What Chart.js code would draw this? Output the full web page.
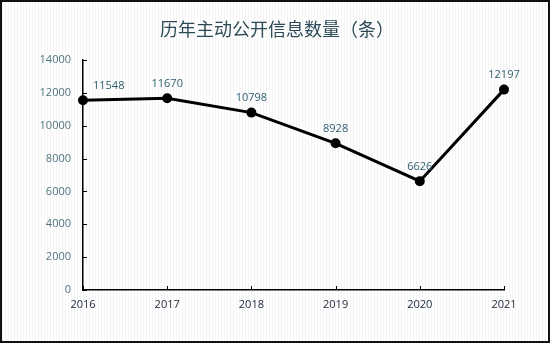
<!DOCTYPE html>
<html>
<head>
<meta charset="utf-8">
<script src="https://cdn.jsdelivr.net/npm/chart.js@4/dist/chart.umd.min.js"></script>
<style>
  html, body { margin: 0; padding: 0; }
  body {
    width: 550px; height: 343px; box-sizing: border-box;
    border: 2px solid #111;
    background: repeating-linear-gradient(90deg, #ffffff 0px, #ffffff 2px, #f4f4f4 2px, #f4f4f4 3px);
  }
  #wrap { position: relative; width: 546px; height: 339px; }
</style>
</head>
<body>
<div id="wrap"><canvas id="c"></canvas></div>
<script>
const years = ['2016', '2017', '2018', '2019', '2020', '2021'];
const counts = [11548, 11670, 10798, 8928, 6626, 12197];
const yTicks = [0, 2000, 4000, 6000, 8000, 10000, 12000, 14000];
const titleText = '历年主动公开信息数量（条）';

// Title centred across the whole canvas
const centredTitle = {
  id: 'centredTitle',
  afterDraw(chart) {
    const ctx = chart.ctx;
    ctx.save();
    ctx.font = '18px "Noto Sans CJK SC", sans-serif';
    ctx.fillStyle = '#2d4a57';
    ctx.textAlign = 'center';
    ctx.textBaseline = 'middle';
    ctx.fillText(titleText, chart.width / 2 + 2, 27);
    ctx.restore();
  }
};

// Short tick marks drawn on the inside of both axes
const innerTicks = {
  id: 'innerTicks',
  afterDraw(chart) {
    const ctx = chart.ctx;
    const xs = chart.scales.x, ys = chart.scales.y;
    const area = chart.chartArea;
    ctx.save();
    ctx.strokeStyle = '#000';
    ctx.lineWidth = 1;
    ys.ticks.forEach(t => {
      const y = Math.round(ys.getPixelForValue(t.value)) + 0.5;
      ctx.beginPath(); ctx.moveTo(area.left, y); ctx.lineTo(area.left + 4, y); ctx.stroke();
    });
    years.forEach((_, i) => {
      const x = Math.round(xs.getPixelForValue(i)) + 0.5;
      ctx.beginPath(); ctx.moveTo(x, area.bottom); ctx.lineTo(x, area.bottom - 4); ctx.stroke();
    });
    ctx.restore();
  }
};

// Value labels above each point; the first one is nudged right to stay off the axis
const valueLabels = {
  id: 'valueLabels',
  afterDatasetsDraw(chart) {
    const ctx = chart.ctx;
    const meta = chart.getDatasetMeta(0);
    ctx.save();
    ctx.font = '11px "Open Sans", "Liberation Sans", sans-serif';
    ctx.fillStyle = '#2f5f70';
    ctx.textBaseline = 'bottom';
    meta.data.forEach((pt, i) => {
      const v = chart.data.datasets[0].data[i];
      let x = pt.x;
      if (i === 0) { ctx.textAlign = 'left'; x = pt.x + 10; }
      else { ctx.textAlign = 'center'; }
      ctx.fillText(String(v), x, pt.y - 9);
    });
    ctx.restore();
  }
};

const tickFont = { family: '"Open Sans", "Liberation Sans", sans-serif', size: 11 };

new Chart(document.getElementById('c'), {
  type: 'line',
  data: {
    labels: years,
    datasets: [{
      data: counts,
      borderColor: '#000',
      backgroundColor: '#000',
      borderWidth: 3,
      pointRadius: 3.5,
      pointBackgroundColor: '#000',
      pointBorderColor: '#000',
      tension: 0
    }]
  },
  options: {
    responsive: true,
    maintainAspectRatio: false,
    animation: false,
    layout: { padding: { left: 0, right: 44, top: 58, bottom: 0 } },
    plugins: {
      legend: { display: false },
      tooltip: { enabled: false },
      title: { display: false }
    },
    scales: {
      x: {
        offset: false,
        afterFit(scale) { scale.height = 51; },
        grid: { display: false, drawTicks: false },
        border: { color: '#000', width: 1.5 },
        ticks: { color: '#1b2838', padding: 8, font: tickFont, maxRotation: 0 }
      },
      y: {
        min: 0, max: 14000,
        afterBuildTicks(scale) { scale.ticks = yTicks.map(v => ({ value: v })); },
        afterFit(scale) { scale.width = 81; },
        grid: { display: false, drawTicks: false },
        border: { color: '#000', width: 1.5 },
        ticks: { color: '#4f7480', padding: 12, font: tickFont, callback: v => String(v) }
      }
    }
  },
  plugins: [valueLabels, centredTitle, innerTicks]
});
</script>
</body>
</html>
